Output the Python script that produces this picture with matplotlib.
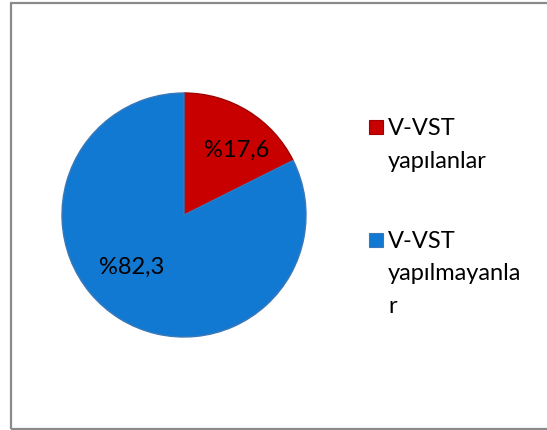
import matplotlib.pyplot as plt
from matplotlib.patches import Rectangle

# data
labels = ["V-VST\nyapılanlar", "V-VST\nyapılmayanla\nr"]
values = [17.6, 82.3]
pct_text = ["%17,6", "%82,3"]
colors = ["#C80000", "#1279D2"]
edges = ["#A00000", "#3A78B8"]

plt.rcParams['font.family'] = ['Lato', 'DejaVu Sans']

W, H = 547, 430
fig = plt.figure(figsize=(W / 100, H / 100), dpi=100)

# pie centre (184, 215) px, radius 122 px
cx, cy, r = 184, 215, 122
ax = fig.add_axes([(cx - r) / W, (H - cy - r) / H, 2 * r / W, 2 * r / H])
wedges, _ = ax.pie(values, colors=colors, startangle=90, counterclock=False,
                   wedgeprops=dict(linewidth=1.0))
for w, ec in zip(wedges, edges):
    w.set_edgecolor(ec)
ax.set_xlim(-1, 1)
ax.set_ylim(-1, 1)

# value labels inside slices
lab_pos = [(0.43, 0.53), (-0.43, -0.43)]
for (x, y), t in zip(lab_pos, pct_text):
    ax.text(x, y, t, ha='center', va='center', fontsize=17, color='black')

# legend, drawn by hand so the marker sits on the first line
first_base = [135, 248]
line_gap = 32.5
for lab, col, ec, yb in zip(labels, colors, edges, first_base):
    fig.patches.append(Rectangle(((376 - 7) / W, (H - (yb - 8) - 7) / H), 14 / W, 14 / H,
                                 transform=fig.transFigure, facecolor=col,
                                 edgecolor=ec, linewidth=0.8))
    for i, line in enumerate(lab.split("\n")):
        fig.text(388 / W, (H - (yb + i * line_gap)) / H, line, ha='left',
                 va='baseline', fontsize=17, color='black')

# chart border
fig.patches.append(Rectangle((10.5 / W, 1.5 / H), 1.2, (H - 4) / H,
                             transform=fig.transFigure, fill=False,
                             edgecolor='#8A8A8A', linewidth=1.6))

fig.savefig("out.png", dpi=100)
